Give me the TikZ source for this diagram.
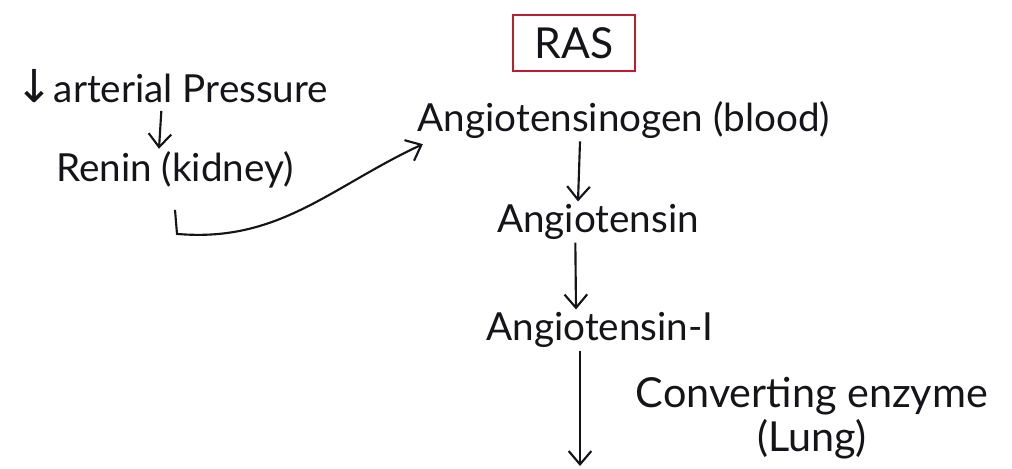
\documentclass[tikz,border=0pt]{standalone}
\usepackage{fontspec}
\setmainfont{Lato}
\newfontfamily\arrowfont{DejaVu Sans}
\definecolor{boxred}{RGB}{190, 30, 40}
\definecolor{inkblack}{RGB}{20, 20, 25}
\usepackage{tikz}
\usetikzlibrary{arrows.meta, positioning, calc}
\tikzset{
  step label/.style={font=\fontsize{29}{32}\selectfont, text=inkblack, inner sep=2pt},
  flow/.style={draw=inkblack, line width=1.6pt, -{Straight Barb[length=10pt, width=17pt, line width=1.6pt]}}
}

\begin{document}
\begin{tikzpicture}[x=0.75pt, y=-0.75pt]
  \useasboundingbox (0,0) rectangle (1012,468);

  % Heading box
  \node[draw=boxred, line width=1.5pt, minimum width=92pt, minimum height=42pt, font=\fontsize{32}{34}\selectfont, text=inkblack] (ras) at (574, 43) {RAS};

  % Left branch
  \node[step label] (lowpress) at (172, 86) {{\arrowfont\fontsize{34}{34}\selectfont ↓}arterial Pressure};
  \node[step label] (renin) at (175, 170) {Renin (kidney)};

  % Main chain
  \node[step label] (agtgen) at (624, 120) {Angiotensinogen (blood)};
  \node[step label] (agt) at (598, 222) {Angiotensin};
  \node[step label] (agtone) at (600, 330) {Angiotensin-I};
  \node[step label, font=\fontsize{31}{33}\selectfont, align=center] (enzyme) at (812, 418) {Converting enzyme\\(Lung)};
  \coordinate (bottom) at (580, 466);

  % Arrows
  \draw[flow] ([xshift=-8pt, yshift=-4pt]lowpress.south) -- ([xshift=-12pt]renin.north);
  \draw[flow] ([yshift=-14pt]renin.south) -- ++(2,24) to[out=-5, in=205] ([xshift=6pt, yshift=-2pt]agtgen.south west);
  \draw[flow] ([xshift=-33pt]agtgen.south) -- ([xshift=-15pt]agt.north);
  \draw[flow] ([xshift=-17pt]agt.south) -- ([xshift=-18pt]agtone.north);
  \draw[flow] ([xshift=-15pt]agtone.south) -- (bottom);
\end{tikzpicture}
\end{document}
